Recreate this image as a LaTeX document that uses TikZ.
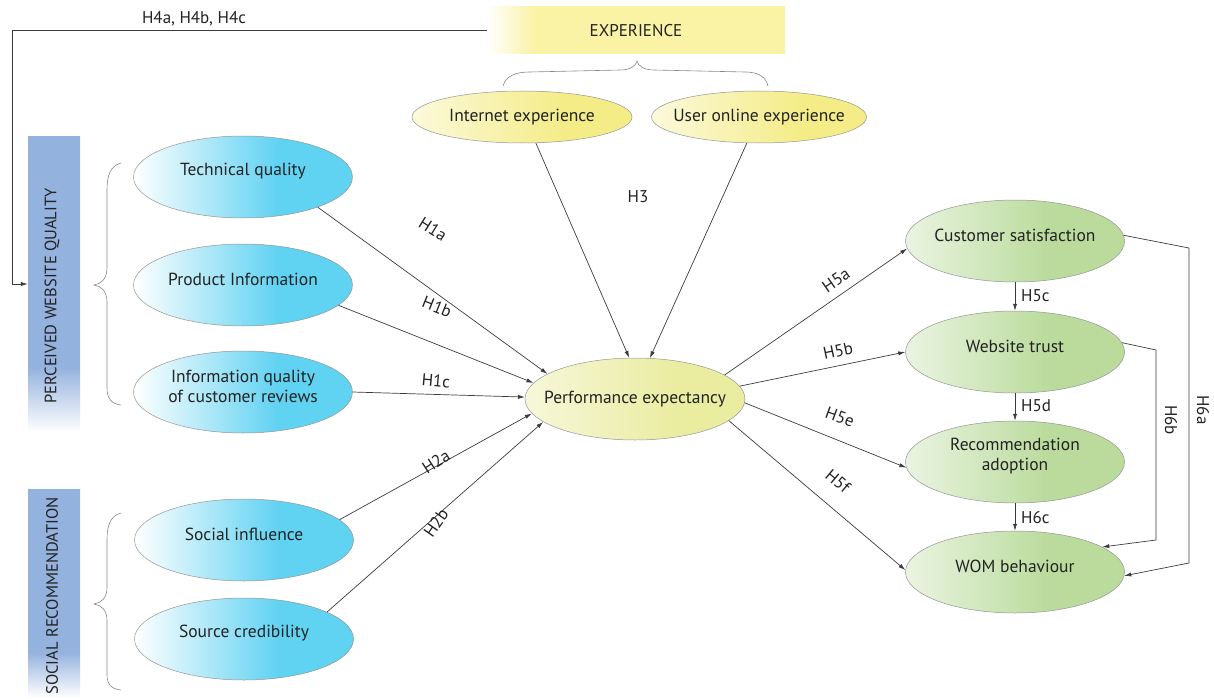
\documentclass[tikz,border=0pt]{standalone}
\usepackage{fontspec}
\setmainfont{PT Sans}
\usetikzlibrary{arrows.meta,shapes.geometric}

\definecolor{inkline}{RGB}{60,60,60}
\definecolor{rimgray}{RGB}{150,150,150}
\definecolor{bracegray}{RGB}{135,135,135}
\definecolor{txt}{RGB}{35,35,35}
\definecolor{cyanfill}{RGB}{96,210,242}
\definecolor{yellowfill}{RGB}{244,236,135}
\definecolor{boxyellow}{RGB}{250,242,165}
\definecolor{pefill}{RGB}{234,236,160}
\definecolor{greenfill}{RGB}{186,219,156}
\definecolor{barblue}{RGB}{148,178,222}

% horizontal fades: white on the left, full colour towards the right
\pgfdeclarehorizontalshading{cyanfade}{100bp}{color(0bp)=(white); color(25bp)=(white); color(58bp)=(cyanfill); color(100bp)=(cyanfill)}
\pgfdeclarehorizontalshading{yellowfade}{100bp}{color(0bp)=(white); color(25bp)=(white!70!yellowfill); color(60bp)=(yellowfill); color(100bp)=(yellowfill)}
\pgfdeclarehorizontalshading{pefade}{100bp}{color(0bp)=(white); color(25bp)=(white!60!pefill); color(60bp)=(pefill); color(100bp)=(pefill)}
\pgfdeclarehorizontalshading{greenfade}{100bp}{color(0bp)=(white); color(25bp)=(white!70!greenfill); color(58bp)=(greenfill); color(100bp)=(greenfill)}
\pgfdeclarehorizontalshading{boxfade}{100bp}{color(0bp)=(white); color(25bp)=(white); color(33bp)=(boxyellow); color(100bp)=(boxyellow)}
% vertical fade: solid blue that dissolves to white at the bottom
\pgfdeclareverticalshading{barfade}{100bp}{color(0bp)=(white); color(25bp)=(white); color(36bp)=(barblue); color(100bp)=(barblue)}

\begin{document}
\begin{tikzpicture}[x=1pt,y=-1pt,
  every node/.style={text=txt},
  nodefont/.style={font=\fontsize{17.5}{20}\selectfont},
  hfont/.style={font=\fontsize{17}{20}\selectfont},
  ell/.style={ellipse, draw=rimgray, line width=0.5pt, inner sep=0pt,
              minimum width=219pt, minimum height=82pt},
  cyanell/.style={ell, shading=cyanfade},
  greenell/.style={ell, shading=greenfade},
  yellowell/.style={ell, shading=yellowfade, minimum height=52pt},
  inlbl/.style={nodefont, align=center, yshift=6pt, inner sep=0pt},
  arr/.style={draw=inkline, line width=0.7pt, -{Latex[length=7pt,width=4.2pt]}},
  brc/.style={draw=bracegray, line width=0.6pt},
  hyp/.style={hfont, inner sep=1pt},
  bartext/.style={font=\fontsize{16.5}{19}\selectfont, rotate=90, text=txt}
]
\useasboundingbox (0,0) rectangle (1214,698);

% ---------- construct groups ----------
\node[minimum width=298pt, minimum height=47pt, inner sep=0pt, shading=boxfade,
      font=\fontsize{17}{20}\selectfont] (exp) at (636,30.5) {EXPERIENCE};

\path[shading=barfade] (28,136) rectangle (80,432);
\node[minimum width=52pt, minimum height=296pt, inner sep=0pt] (pwqbar) at (54,284) {};
\node[bartext] (pwqtxt) at (52,296) {PERCEIVED WEBSITE QUALITY};

\path[shading=barfade] (28,489) rectangle (80,698);
\node[minimum width=52pt, minimum height=209pt, inner sep=0pt] (srbar) at (54,593.5) {};
\node[bartext] (srtxt) at (52,596) {SOCIAL RECOMMENDATION};

% ---------- braces ----------
\draw[brc] (503,86) .. controls (506,76) and (515,72) .. (530,72) -- (620,70)
  .. controls (630,70) and (636,66) .. (637,61)
  .. controls (638,66) and (644,70) .. (654,70) -- (745,72)
  .. controls (760,72) and (766,78) .. (768,86);
\draw[brc] (121,163) .. controls (110,166) and (107,176) .. (107,190) -- (107,268)
  .. controls (107,279) and (101,284) .. (94,285)
  .. controls (101,286) and (107,291) .. (107,302) -- (107,388)
  .. controls (107,398) and (111,404) .. (121,405);
\draw[brc] (121,513) .. controls (110,516) and (107,526) .. (107,540) -- (107,588)
  .. controls (107,598) and (101,603) .. (94,604)
  .. controls (101,605) and (107,610) .. (107,620) -- (107,675)
  .. controls (107,684) and (111,689) .. (121,690);

% ---------- constructs ----------
\node[yellowell, minimum width=220pt] (ie) at (522,117) {};
\node[nodefont] at (ie.center) {Internet experience};
\node[yellowell, minimum width=215pt] (uoe) at (759,117) {};
\node[nodefont] at (uoe.center) {User online experience};

\node[cyanell] (tq) at (243,177) {};
\node[inlbl] at (tq.center) {Technical quality};
\node[cyanell] (pi) at (243,285) {};
\node[inlbl] at (pi.center) {Product Information};
\node[cyanell] (iq) at (243,392) {};
\node[inlbl] at (iq.center) {Information quality\\of customer reviews};
\node[cyanell] (si) at (244,540) {};
\node[inlbl] at (si.center) {Social influence};
\node[cyanell] (sc) at (244,639) {};
\node[inlbl] at (sc.center) {Source credibility};

\node[ell, shading=pefade, minimum width=220pt] (pe) at (635,399) {};
\node[nodefont] at (pe.center) {Performance expectancy};

\node[greenell] (cs) at (1015,241) {};
\node[inlbl] at (cs.center) {Customer satisfaction};
\node[greenell] (wt) at (1015,352) {};
\node[inlbl] at (wt.center) {Website trust};
\node[greenell] (ra) at (1015,462) {};
\node[inlbl] at (ra.center) {Recommendation\\adoption};
\node[greenell] (wom) at (1015,572) {};
\node[inlbl] at (wom.center) {WOM behaviour};

% ---------- paths ----------
\coordinate (h4turn) at (12,30.5);
\draw[arr] (exp.west) -- (h4turn) |- (pwqbar.west);
\node[hyp] (h4) at (194,19) {H4a, H4b, H4c};

\draw[arr] (ie.-62) -- (pe.98);
\draw[arr] (uoe.-115) -- (pe.70);
\node[hyp] (h3) at (638,197) {H3};

\draw[arr] (tq.-22) -- (pe.164);
\draw[arr] (pi.-12) -- (pe.171);
\draw[arr] (iq.east) -- (pe.179);
\draw[arr] (si.12) -- (pe.188);
\draw[arr] (sc.18) -- (pe.194);
\node[hyp, rotate=-32] (h1a) at (433,229) {H1a};
\node[hyp, rotate=-22] (h1b) at (437,307) {H1b};
\node[hyp, rotate=-5] (h1c) at (436,381) {H1c};
\node[hyp, rotate=33] (h2a) at (436,462) {H2a};
\node[hyp, rotate=55] (h2b) at (436,523) {H2b};

\draw[arr] (pe.15) -- (cs.184);
\draw[arr] (pe.7) -- (wt.180);
\draw[arr] (pe.-2) -- (ra.183);
\draw[arr] (pe.-13) -- (wom.179);
\node[hyp, rotate=35] (h5a) at (836,280) {H5a};
\node[hyp, rotate=12] (h5b) at (838,351) {H5b};
\node[hyp, rotate=-20] (h5e) at (840,417) {H5e};
\node[hyp, rotate=-40] (h5f) at (838,481) {H5f};

\draw[arr] (cs.south) -- (wt.north);
\draw[arr] (wt.south) -- (ra.north);
\draw[arr] (ra.south) -- (wom.north);
\node[hyp, anchor=west] (h5c) at (1020,296) {H5c};
\node[hyp, anchor=west] (h5d) at (1020,406) {H5d};
\node[hyp, anchor=west] (h6c) at (1020,518) {H6c};

\coordinate (b1) at (1156,350);
\coordinate (b2) at (1156,540);
\draw[arr] (wt.5) -- (b1) -- (b2) -- (wom.16);
\node[hyp, rotate=-90] (h6b) at (1171,420) {H6b};

\coordinate (a1) at (1189,248);
\coordinate (a2) at (1189,563);
\draw[arr] (cs.3) -- (a1) -- (a2) -- (wom.-2);
\node[hyp, rotate=-90] (h6a) at (1203,410) {H6a};
\end{tikzpicture}
\end{document}
